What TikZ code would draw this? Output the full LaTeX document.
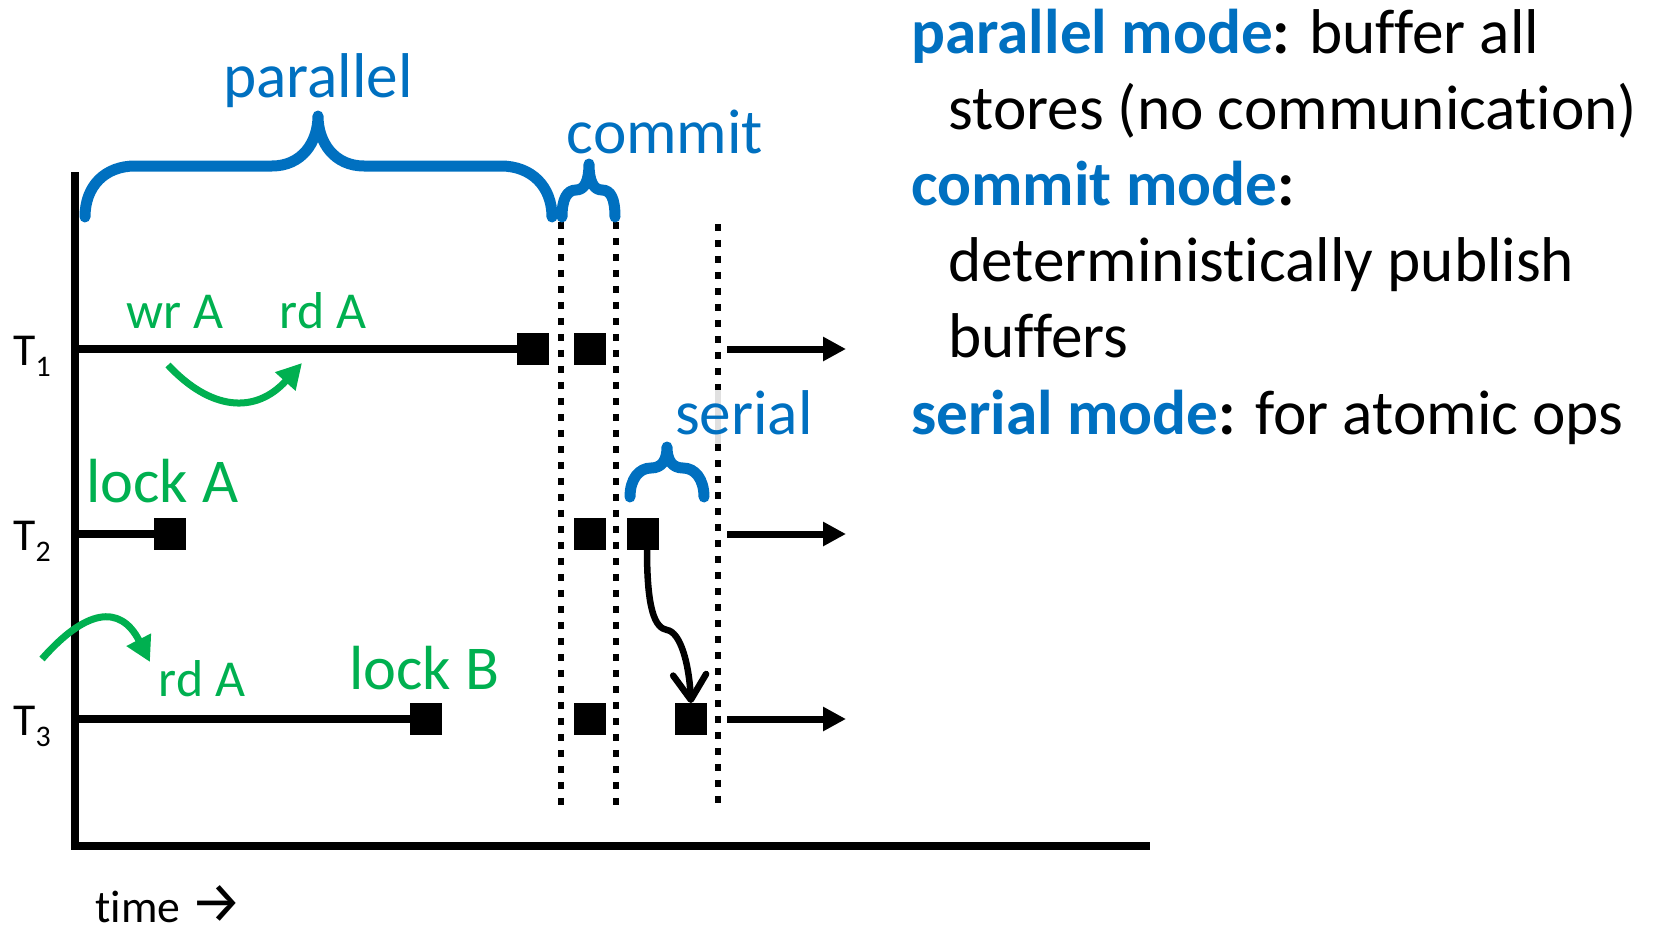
\documentclass[tikz,border=0pt]{standalone}
\usepackage{fontspec}
\setmainfont{Carlito}[Ligatures={NoCommon,NoContextual}]
\newfontfamily\arrowfont{Fira Sans}
\usetikzlibrary{arrows.meta}
\definecolor{modeblue}{HTML}{0070C0}
\definecolor{opgreen}{HTML}{00B050}
\newcommand\threadsub[1]{\raisebox{-6.8pt}{\fontsize{17}{17}\selectfont #1}}

\begin{document}
\begin{tikzpicture}[x=0.02cm,y=-0.02cm,
  axis/.style={line width=0.16cm},
  tline/.style={line width=0.15cm},
  blk/.style={fill=black, minimum size=0.64cm, inner sep=0pt, outer sep=0pt},
  fence/.style={line width=0.12cm, dash pattern=on 0.14cm off 0.18cm},
  brace/.style={modeblue, line width=0.22cm, line cap=round, line join=round},
  runarrow/.style={line width=0.14cm, -{Triangle[length=0.46cm,width=0.46cm]}},
  greenarrow/.style={opgreen, line width=0.14cm, -{Triangle[length=0.5cm,width=0.52cm]}},
  deparrow/.style={line width=0.13cm, -{Straight Barb[length=0.5cm,width=0.66cm,round]}},
  modelab/.style={modeblue, inner sep=0pt, anchor=base, font=\fontsize{36}{43}\selectfont},
  oplab/.style={opgreen, inner sep=0pt, anchor=base, font=\fontsize{29.5}{35}\selectfont},
  biglab/.style={opgreen, inner sep=0pt, anchor=base, font=\fontsize{35.5}{42}\selectfont},
  tlab/.style={inner sep=0pt, anchor=base west, font=\fontsize{26}{31}\selectfont},
  rtext/.style={inner sep=0pt, anchor=base west, font=\fontsize{36}{43}\selectfont},
]
\useasboundingbox (0,0) rectangle (1658,930);

% axes
\coordinate (ytop) at (75,172);
\coordinate (orig) at (75,846);
\coordinate (xend) at (1150,846);
\draw[axis] (ytop) -- (orig) -- (xend);
\node[tlab, anchor=base west, text depth=0pt] (timelab) at (95,922) {time {\arrowfont\fontsize{33}{36}\selectfont →}};

% thread labels
\node[tlab] (T1) at (13,365) {T\threadsub{1}};
\node[tlab] (T2) at (13,550) {T\threadsub{2}};
\node[tlab] (T3) at (13,735) {T\threadsub{3}};

% phase boundaries
\coordinate (d1t) at (561,222); \coordinate (d1b) at (561,806);
\coordinate (d2t) at (616,222); \coordinate (d2b) at (616,806);
\coordinate (d3t) at (718,224); \coordinate (d3m) at (718,390);
\coordinate (d3n) at (718,444); \coordinate (d3b) at (718,806);
\draw[fence] (d1t) -- (d1b);
\draw[fence] (d2t) -- (d2b);
\draw[fence] (d3t) -- (d3m);
\draw[line width=0.12cm, black!12] (d3m) -- (d3n);
\draw[fence] (d3n) -- (d3b);

% events
\node[blk] (b11) at (533,349) {};
\node[blk] (b12) at (590,349) {};
\node[blk] (b21) at (170,534) {};
\node[blk] (b22) at (590,534) {};
\node[blk] (b23) at (643,534) {};
\node[blk] (b31) at (426,719) {};
\node[blk] (b32) at (590,719) {};
\node[blk] (b33) at (691,719) {};

% thread timelines
\coordinate (t1) at (75,349);
\coordinate (t2) at (75,534);
\coordinate (t3) at (75,719);
\draw[tline] (t1) -- (b11.west);
\draw[tline] (t2) -- (b21.west);
\draw[tline] (t3) -- (b31.west);

% continuation arrows
\coordinate (r1s) at (727,349); \coordinate (r1e) at (846,349);
\coordinate (r2s) at (727,534); \coordinate (r2e) at (846,534);
\coordinate (r3s) at (727,719); \coordinate (r3e) at (846,719);
\draw[runarrow] (r1s) -- (r1e);
\draw[runarrow] (r2s) -- (r2e);
\draw[runarrow] (r3s) -- (r3e);

% serial dependency
\draw[deparrow] ([xshift=0.08cm]b23.south) .. controls (647,610) and (655,628) .. (667,630)
  .. controls (680,632) and (689,662) .. (b33.north);

% operations
\node[oplab] (wrA) at (175,328) {wr A};
\node[oplab] (rdA1) at (323,328) {rd A};
\node[biglab, anchor=base west] (lockA) at (86,502) {lock A};
\node[oplab] (rdA3) at (202,696) {rd A};
\node[biglab] (lockB) at (424,689) {lock B};

\coordinate (g1s) at (168,365); \coordinate (g1e) at (302,363);
\draw[greenarrow] (g1s) .. controls (210,410) and (255,415) .. (g1e);
\coordinate (g3s) at (42,659); \coordinate (g3e) at (150,662);
\draw[greenarrow] (g3s) .. controls (85,610) and (120,603) .. (g3e);

% mode braces
\draw[brace] (85,217) .. controls (85,186) and (105,166) .. (135,166) -- (272,166)
  .. controls (302,166) and (318,142) .. (318,116)
  .. controls (318,142) and (334,166) .. (364,166) -- (501,166)
  .. controls (531,166) and (552,186) .. (552,217);
\draw[brace] (562,217) .. controls (562,199) and (567,190) .. (576,190)
  .. controls (585,190) and (589,180) .. (589,164)
  .. controls (589,180) and (593,190) .. (602,190)
  .. controls (611,190) and (615,199) .. (615,217);
\draw[brace] (630,497) .. controls (630,479) and (639,468) .. (651,468)
  .. controls (662,468) and (667,460) .. (667,447)
  .. controls (667,460) and (672,468) .. (683,468)
  .. controls (695,468) and (704,479) .. (704,497);

\node[modelab] (parlab) at (318,97) {parallel};
\node[modelab] (comlab) at (665,153) {commit};
\node[modelab] (serlab) at (744,434) {serial};

% legend
\node[rtext] (m1) at (911,53) {\textcolor{modeblue}{\bfseries parallel mode}\textbf{:} buffer all};
\node[rtext] (m1b) at (948,129) {stores (no communication)};
\node[rtext] (m2) at (911,205) {\textcolor{modeblue}{\bfseries commit mode}\textbf{:}};
\node[rtext] (m2b) at (948,281) {deterministically publish};
\node[rtext] (m2c) at (948,357) {buffers};
\node[rtext] (m3) at (911,434) {\textcolor{modeblue}{\bfseries serial mode}\textbf{:} for atomic ops};
\end{tikzpicture}
\end{document}
